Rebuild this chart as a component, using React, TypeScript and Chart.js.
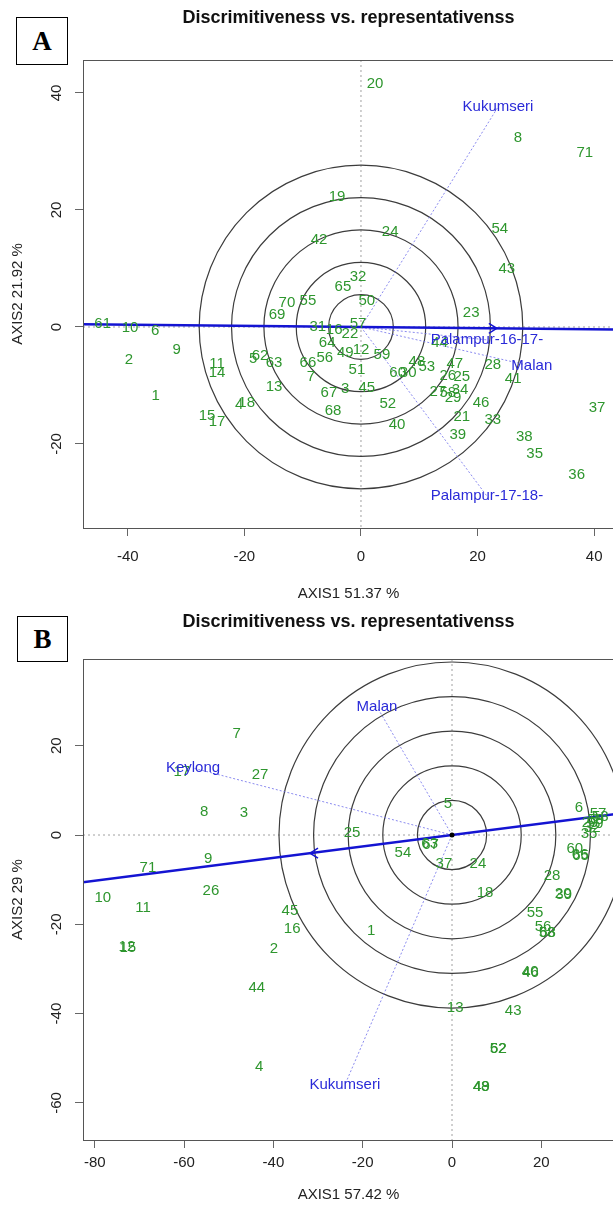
import React, { useEffect, useRef } from 'react';
import { Chart, registerables } from 'chart.js';

Chart.register(...registerables);

const FONT = '"Liberation Sans", Arial, Helvetica, sans-serif';
const GREEN = '#2e962e';
const BLUE_TEXT = '#2a2ad8';
const BLUE_LINE = '#1414d2';
const TITLE = 'Discrimitiveness vs. representativenss';

// ---------------- Panel A data ----------------
const aGenotypes = ['1','2','3','4','5','6','7','8','9','10','11','12','13','14','15','16','17','18','19','20','21','22','23','24','25','26','27','28','29','30','31','32','33','34','35','36','37','38','39','40','41','42','43','44','45','46','47','48','49','50','51','52','53','54','55','56','57','58','59','60','61','62','63','64','65','66','67','68','69','70','71'];
const aGenoX = [-35.2,-39.8,-2.7,-20.9,-18.5,-35.3,-8.6,26.9,-31.6,-39.6,
  -24.7,0.0,-14.9,-24.7,-26.4,-4.6,-24.7,-19.6,-4.1,2.4,
  17.3,-1.9,18.9,5.0,17.3,14.9,13.2,22.6,15.8,8.1,
  -7.4,-0.5,22.6,17.0,29.8,37.0,40.5,28.0,16.6,6.2,
  26.1,-7.2,25.0,13.5,1.0,20.6,16.1,9.6,-2.7,1.0,
  -0.7,4.6,11.3,23.8,-9.1,-6.2,-0.5,14.9,3.6,6.3,
  -44.3,-17.3,-14.9,-5.8,-3.1,-9.1,-5.5,-4.8,-14.4,-12.7,38.4];
const aGenoY = [-11.8,-5.6,-10.6,-13.3,-5.5,-0.7,-8.5,32.3,-3.9,-0.2,
  -6.3,-3.9,-10.3,-7.9,-15.2,-0.5,-16.2,-13.0,22.2,41.5,
  -15.4,-1.2,2.4,16.2,-8.5,-8.4,-11.1,-6.5,-12.1,-7.9,
  0.0,8.5,-15.9,-10.8,-21.7,-25.3,-13.8,-18.8,-18.5,-16.8,
  -8.9,14.9,9.9,-2.7,-10.4,-13.0,-6.3,-6.0,-4.4,4.4,
  -7.4,-13.2,-6.8,16.8,4.4,-5.3,0.5,-11.3,-4.8,-7.9,
  0.5,-5.0,-6.2,-2.7,6.8,-6.2,-11.3,-14.4,2.1,4.1,29.7];
const aEnvNames = ['Kukumseri', 'Palampur-16-17-', 'Malan', 'Palampur-17-18-'];
const aEnvX = [23.5, 21.6, 29.3, 21.6];
const aEnvY = [37.6, -2.2, -6.7, -28.9];
const aCircleRadii = [5.55, 11.1, 16.65, 22.2, 27.75];
const aAxisSlope = -0.01;
const aArrowX = 23.3;
const aXTicks = [-40, -20, 0, 20, 40];
const aYTicks = [-20, 0, 20, 40];
const aXTitle = 'AXIS1 51.37 %';
const aYTitle = 'AXIS2 21.92 %';

// ---------------- Panel B data ----------------
const bGenotypes = ['1','2','3','4','5','6','7','8','9','10','11','12','15','13','16','17','18','24','25','26','27','28','20','39','37','43','44','45','48','49','52','62','54','55','56','58','68','60','66','65','63','67','71','40','46','57','53','29','59','32','35','50'];
const bGenoX = [-18.1,-39.9,-46.6,-43.2,-0.9,28.4,-48.2,-55.5,-54.6,-78.2,
  -69.2,-72.8,-72.6,0.7,-35.8,-60.5,7.4,5.8,-22.4,-54.0,
  -43.0,22.4,24.9,25.0,-1.8,13.7,-43.7,-36.3,6.5,6.6,
  10.3,10.4,-11.0,18.6,20.4,21.3,21.4,27.5,28.7,28.8,
  -5.0,-4.8,-68.1,17.5,17.6,32.7,33.2,30.9,32.2,31.4,30.7,32.0];
const bGenoY = [-21.5,-25.5,4.9,-51.9,6.9,6.0,22.6,5.2,-5.4,-14.1,
  -16.3,-25.1,-25.3,-38.7,-21.1,14.1,-13.0,-6.5,0.4,-12.5,
  13.4,-9.2,-13.2,-13.3,-6.5,-39.4,-34.3,-17.0,-56.3,-56.5,
  -47.9,-48.0,-4.0,-17.5,-20.6,-21.9,-22.0,-3.1,-4.5,-4.6,
  -2.0,-2.1,-7.4,-30.7,-30.8,4.7,4.0,2.7,3.4,1.6,0.2,2.5];
const bEnvNames = ['Malan', 'Keylong', 'Kukumseri'];
const bEnvX = [-16.8, -58.0, -24.0];
const bEnvY = [28.7, 15.0, -56.0];
const bCircleRadii = [7.75, 15.5, 23.25, 31.0, 38.75];
const bAxisSlope = 0.128;
const bArrowX = -31.8;
const bXTicks = [-80, -60, -40, -20, 0, 20];
const bYTicks = [-60, -40, -20, 0, 20];
const bXTitle = 'AXIS1 57.42 %';
const bYTitle = 'AXIS2 29 %';

const biplotPlugin = {
  id: 'biplot',
  beforeDatasetsDraw(chart: any) {
    const o = chart.options.plugins.biplot;
    const { ctx, chartArea: ca } = chart;
    const xs = chart.scales.x;
    const ys = chart.scales.y;
    const x0 = xs.getPixelForValue(0);
    const y0 = ys.getPixelForValue(0);
    ctx.save();
    ctx.beginPath();
    ctx.rect(ca.left, ca.top, ca.right - ca.left, ca.bottom - ca.top);
    ctx.clip();
    ctx.strokeStyle = '#a0a0a0';
    ctx.lineWidth = 1;
    ctx.setLineDash([2, 3]);
    ctx.beginPath();
    ctx.moveTo(x0, ca.top);
    ctx.lineTo(x0, ca.bottom);
    ctx.moveTo(ca.left, y0);
    ctx.lineTo(ca.right, y0);
    ctx.stroke();
    ctx.setLineDash([]);
    ctx.strokeStyle = '#3c3c3c';
    ctx.lineWidth = 1.2;
    for (const r of o.radii) {
      const rp = xs.getPixelForValue(r) - x0;
      ctx.beginPath();
      ctx.arc(x0, y0, rp, 0, Math.PI * 2);
      ctx.stroke();
    }
    ctx.restore();
  },
  afterDatasetsDraw(chart: any) {
    const o = chart.options.plugins.biplot;
    const { ctx, chartArea: ca } = chart;
    const xs = chart.scales.x;
    const ys = chart.scales.y;
    const x0 = xs.getPixelForValue(0);
    const y0 = ys.getPixelForValue(0);
    ctx.save();
    ctx.beginPath();
    ctx.rect(ca.left, ca.top, ca.right - ca.left, ca.bottom - ca.top);
    ctx.clip();
    // arrow head on the average-environment axis
    const ax = xs.getPixelForValue(o.arrowX);
    const ay = ys.getPixelForValue(o.arrowX * o.slope);
    const dir = o.arrowX > 0 ? 1 : -1;
    ctx.strokeStyle = BLUE_LINE;
    ctx.lineWidth = 1.5;
    ctx.beginPath();
    ctx.moveTo(ax - dir * 8, ay - 5);
    ctx.lineTo(ax, ay);
    ctx.lineTo(ax - dir * 8, ay + 5);
    ctx.stroke();
    if (o.originDot) {
      ctx.fillStyle = '#000';
      ctx.beginPath();
      ctx.arc(x0, y0, 2.5, 0, Math.PI * 2);
      ctx.fill();
    }
    ctx.textAlign = 'center';
    ctx.textBaseline = 'middle';
    ctx.font = `15px ${FONT}`;
    ctx.fillStyle = GREEN;
    o.gLabels.forEach((t: string, i: number) => {
      ctx.fillText(t, xs.getPixelForValue(o.gx[i]), ys.getPixelForValue(o.gy[i]));
    });
    ctx.fillStyle = BLUE_TEXT;
    o.eLabels.forEach((t: string, i: number) => {
      ctx.fillText(t, xs.getPixelForValue(o.ex[i]), ys.getPixelForValue(o.ey[i]));
    });
    ctx.restore();

    ctx.save();
    ctx.strokeStyle = '#555';
    ctx.lineWidth = 1;
    ctx.strokeRect(ca.left + 0.5, ca.top + 0.5, ca.right - ca.left, ca.bottom - ca.top);
    ctx.textAlign = 'center';
    ctx.textBaseline = 'middle';
    ctx.fillStyle = '#111';
    ctx.font = `bold 18px ${FONT}`;
    ctx.fillText(TITLE, (ca.left + ca.right) / 2, o.titleY);
    ctx.font = `15px ${FONT}`;
    ctx.fillStyle = '#222';
    for (const v of o.yTicks) {
      const py = ys.getPixelForValue(v);
      ctx.save();
      ctx.translate(o.yTickX, py);
      ctx.rotate(-Math.PI / 2);
      ctx.fillText(String(v), 0, 0);
      ctx.restore();
    }
    ctx.restore();
  },
};

type PanelCfg = {
  top: number; w: number; h: number;
  caTop: number; caBottom: number; caLeft: number; caRight: number;
  xMin: number; xMax: number; yMin: number; yMax: number;
  xTickPad: number; xTitlePad: number; yTitlePad: number; titleY: number; yTickX: number;
  gLabels: string[]; gx: number[]; gy: number[];
  eLabels: string[]; ex: number[]; ey: number[];
  radii: number[]; slope: number; arrowX: number; originDot: boolean;
  xTicks: number[]; yTicks: number[]; xTitle: string; yTitle: string;
};

function Panel({ cfg }: { cfg: PanelCfg }) {
  const ref = useRef<HTMLCanvasElement>(null);
  useEffect(() => {
    const canvas = ref.current as HTMLCanvasElement;
    const datasets: any[] = [
      {
        label: 'AEA',
        data: [{ x: -200, y: -200 * cfg.slope }, { x: 200, y: 200 * cfg.slope }],
        showLine: true, borderColor: BLUE_LINE, borderWidth: 2.6, pointRadius: 0,
      },
    ];
    cfg.eLabels.forEach((n, i) => {
      datasets.push({
        label: n,
        data: [{ x: 0, y: 0 }, { x: cfg.ex[i], y: cfg.ey[i] }],
        showLine: true, borderColor: 'rgba(110,110,235,0.8)', borderWidth: 1,
        borderDash: [2, 2], pointRadius: 0,
      });
    });
    datasets.push({
      label: 'genotypes',
      data: cfg.gx.map((x, i) => ({ x, y: cfg.gy[i] })),
      showLine: false, pointRadius: 0,
    });
    const tickFont = { family: FONT, size: 15 };
    const chart = new Chart(canvas, {
      type: 'scatter',
      data: { datasets },
      options: {
        responsive: false,
        animation: false,
        devicePixelRatio: 1,
        layout: { padding: { top: cfg.caTop, right: cfg.w - cfg.caRight, left: 0, bottom: 0 } },
        plugins: {
          legend: { display: false },
          tooltip: { enabled: false },
          title: { display: false },
          biplot: {
            radii: cfg.radii, slope: cfg.slope, arrowX: cfg.arrowX, originDot: cfg.originDot,
            gLabels: cfg.gLabels, gx: cfg.gx, gy: cfg.gy,
            eLabels: cfg.eLabels, ex: cfg.ex, ey: cfg.ey,
            titleY: cfg.titleY, yTicks: cfg.yTicks, yTickX: cfg.yTickX,
          },
        } as any,
        scales: {
          x: {
            type: 'linear', position: 'bottom', min: cfg.xMin, max: cfg.xMax,
            afterBuildTicks: (s: any) => { s.ticks = cfg.xTicks.map((v) => ({ value: v })); },
            afterFit: (s: any) => { s.height = cfg.h - cfg.caBottom; },
            ticks: {
              autoSkip: false, maxRotation: 0, minRotation: 0, color: '#222',
              font: tickFont, padding: cfg.xTickPad, callback: (v: any) => String(v),
            },
            grid: { drawOnChartArea: false, drawTicks: true, tickLength: 8, color: '#666', lineWidth: 1 },
            border: { display: false },
            title: {
              display: true, text: cfg.xTitle, color: '#222', font: tickFont,
              padding: { top: 0, bottom: cfg.xTitlePad },
            },
          },
          y: {
            type: 'linear', position: 'left', min: cfg.yMin, max: cfg.yMax,
            afterBuildTicks: (s: any) => { s.ticks = cfg.yTicks.map((v) => ({ value: v })); },
            afterFit: (s: any) => { s.width = cfg.caLeft; },
            ticks: { color: 'rgba(0,0,0,0)', font: tickFont, callback: (v: any) => String(v) },
            grid: { drawOnChartArea: false, drawTicks: true, tickLength: 8, color: '#666', lineWidth: 1 },
            border: { display: false },
            title: {
              display: true, text: cfg.yTitle, color: '#222', font: tickFont,
              padding: { top: cfg.yTitlePad, bottom: 0 },
            },
          },
        } as any,
      },
      plugins: [biplotPlugin],
    });
    return () => chart.destroy();
  }, []);
  return (
    <canvas
      ref={ref}
      width={cfg.w}
      height={cfg.h}
      style={{ position: 'absolute', left: 0, top: cfg.top, width: cfg.w, height: cfg.h }}
    />
  );
}

const panelA: PanelCfg = {
  top: 0, w: 620, h: 605,
  caTop: 60, caBottom: 528, caLeft: 83, caRight: 614,
  xMin: -47.68, xMax: 43.4, yMin: -34.36, yMax: 45.64,
  xTickPad: 12, xTitlePad: 2, yTitlePad: 9, titleY: 18, yTickX: 57,
  gLabels: aGenotypes, gx: aGenoX, gy: aGenoY,
  eLabels: aEnvNames, ex: aEnvX, ey: aEnvY,
  radii: aCircleRadii, slope: aAxisSlope, arrowX: aArrowX, originDot: false,
  xTicks: aXTicks, yTicks: aYTicks, xTitle: aXTitle, yTitle: aYTitle,
};

const panelB: PanelCfg = {
  top: 605, w: 620, h: 604,
  caTop: 54, caBottom: 535, caLeft: 83, caRight: 614,
  xMin: -82.64, xMax: 36.28, yMin: -68.31, yMax: 39.42,
  xTickPad: 6, xTitlePad: 5, yTitlePad: 9, titleY: 17, yTickX: 57,
  gLabels: bGenotypes, gx: bGenoX, gy: bGenoY,
  eLabels: bEnvNames, ex: bEnvX, ey: bEnvY,
  radii: bCircleRadii, slope: bAxisSlope, arrowX: bArrowX, originDot: true,
  xTicks: bXTicks, yTicks: bYTicks, xTitle: bXTitle, yTitle: bYTitle,
};

const letterBox = (left: number, top: number, w: number, h: number): React.CSSProperties => ({
  position: 'absolute', left, top, width: w, height: h, boxSizing: 'border-box',
  border: '1px solid #000', background: '#fff', display: 'flex', alignItems: 'center',
  justifyContent: 'center', fontFamily: '"Liberation Serif", "Times New Roman", serif',
  fontWeight: 'bold', fontSize: 27, color: '#000', lineHeight: 1,
});

export default function App() {
  useEffect(() => {
    document.body.style.margin = '0';
  }, []);
  return (
    <div style={{ position: 'absolute', left: 0, top: 0, width: 613, height: 1209, overflow: 'hidden', background: '#fff' }}>
      <Panel cfg={panelA} />
      <Panel cfg={panelB} />
      <div style={letterBox(16, 17, 52, 48)}>A</div>
      <div style={letterBox(17, 616, 51, 46)}>B</div>
    </div>
  );
}
